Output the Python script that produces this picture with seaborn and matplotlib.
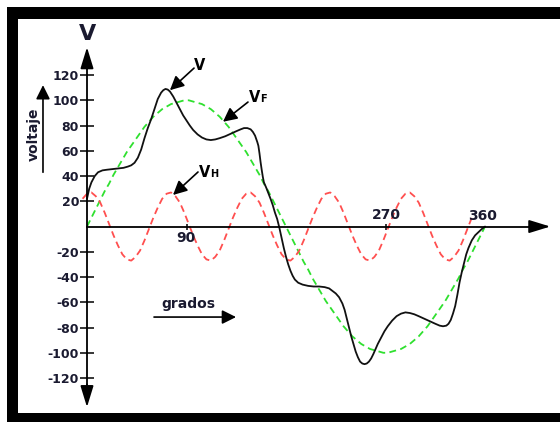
import numpy as np
import pandas as pd
import matplotlib
matplotlib.use('Agg')
import matplotlib.pyplot as plt
from matplotlib.patches import Rectangle
import seaborn as sns

# datos (grados, voltaje)
v_deg = [0, 2, 4, 7, 10, 14, 18, 23, 28, 33, 37, 40, 43, 46, 49, 52, 55, 58, 61, 64,
         67, 69, 71, 73, 75, 78, 81, 84, 87, 90, 93, 96, 100, 104, 108, 112, 116, 120,
         125, 130, 135, 139, 142, 145, 148, 150, 152, 154, 155, 156, 157, 158, 159, 160,
         162, 164, 166, 168, 170, 172, 174, 176, 178, 180, 182, 184, 186, 188, 191, 195,
         200, 205, 210, 215, 219, 222, 225, 228, 231, 233, 235, 237, 239, 241, 243, 245,
         247, 249, 251, 253, 255, 257, 259, 261, 263, 266, 269, 272, 276, 280, 284, 288,
         292, 296, 300, 305, 310, 315, 319, 322, 325, 327, 329, 331, 333, 335, 337, 339,
         341, 343, 345, 348, 351, 354, 357, 360]
v_val = [22, 30, 35, 40, 43, 44.5, 45, 45.5, 46, 46.5, 47.5, 48.5, 50.5, 54.5, 61, 70, 78, 85, 93, 101,
         106, 108, 109, 108.5, 107, 103, 98, 93, 88, 84, 80, 76.5, 73, 70.5, 69, 68.5, 69, 70,
         71.5, 73.5, 75.5, 77, 78, 78, 77, 75, 72, 67, 64, 58, 51, 45, 39.5, 35,
         31, 26.5, 22, 17, 11, 6, -1, -9, -17, -24, -30, -35, -39, -42, -44.5, -46,
         -47, -47.5, -47.5, -48, -49, -51, -53, -56, -61, -66, -73, -80, -87, -93, -99, -103.5,
         -107, -108.5, -109, -108.5, -107, -104.5, -101, -97, -93, -88, -83, -79, -74.5, -71, -69, -68,
         -68.5, -69.5, -71, -73, -75, -77, -78.5, -79, -78.5, -77, -74, -69, -63, -54, -44, -36,
         -29, -22, -17, -11, -7, -4.5, -2, 0]

f_deg = list(range(0, 361, 4))
f_val = [0, 7, 14, 21, 28, 34, 41, 47, 53, 59, 64, 69, 74, 79, 83, 87, 90, 93, 95, 97, 98, 99, 100,
         100, 99, 98, 97, 95, 93, 90, 87, 83, 79, 74, 69, 64, 59, 53, 47, 41, 34, 28, 21, 14, 7,
         0, -7, -14, -21, -28, -34, -41, -47, -53, -59, -64, -69, -74, -79, -83, -87, -90, -93, -95,
         -97, -98, -99, -100, -100, -99, -98, -97, -95, -93, -90, -87, -83, -79, -74, -69, -64, -59,
         -53, -47, -41, -34, -28, -21, -14, -7, 0]

h_deg = list(range(-4, 349, 4))
h_val = [22,
         26, 27, 24, 19, 11, 2, -7, -15, -22, -26, -27, -24, -19, -11, -2, 7, 15, 22,
         26, 27, 24, 19, 11, 2, -7, -15, -22, -26, -27, -24, -19, -11, -2, 7, 15, 22,
         26, 27, 24, 19, 11, 2, -7, -15, -22, -26, -27, -24, -19, -11, -2, 7, 15, 22,
         26, 27, 24, 19, 11, 2, -7, -15, -22, -26, -27, -24, -19, -11, -2, 7, 15, 22,
         26, 27, 24, 19, 11, 2, -7, -15, -22, -26, -27, -24, -19, -11, -2, 7]

y_ticks = [-120, -100, -80, -60, -40, -20, 20, 40, 60, 80, 100, 120]
x_ticks = [90, 270]

sns.set_style('white')
plt.rcParams['font.family'] = ['DejaVu Sans']
txt_col = '#1a1a30'

fig = plt.figure(figsize=(5.6, 4.22), dpi=100)
fig.patch.set_facecolor('white')
# marco negro
fig.patches.append(Rectangle((7 / 560, 0), 1, 415 / 422, transform=fig.transFigure,
                             facecolor='black', edgecolor='none', zorder=-1))
ax = fig.add_axes([18 / 560, 9 / 422, 542 / 560, 394 / 422])
ax.set_facecolor('white')

sns.lineplot(x=f_deg, y=f_val, ax=ax, color='#2fe02f', lw=1.3, linestyle=(0, (3.8, 2.4)),
             estimator=None, sort=False)
sns.lineplot(x=h_deg, y=h_val, ax=ax, color='#ff4f4f', lw=1.3, linestyle=(0, (3.8, 2.4)),
             estimator=None, sort=False)
sns.lineplot(x=v_deg, y=v_val, ax=ax, color='#111111', lw=1.3, estimator=None, sort=False)

ax.set_xlim(-62.4, 427.8)
ax.set_ylim(-147.7, 164.4)

# ejes en el origen
ax.spines['left'].set_position(('data', 0))
ax.spines['bottom'].set_position(('data', 0))
ax.spines['right'].set_visible(False)
ax.spines['top'].set_visible(False)
for s in ['left', 'bottom']:
    ax.spines[s].set_linewidth(1.3)
    ax.spines[s].set_color('black')
ax.spines['left'].set_bounds(-135, 135)
ax.spines['bottom'].set_bounds(0, 410)

ax.set_yticks(y_ticks)
ax.set_yticklabels([str(t) for t in y_ticks])
ax.tick_params(axis='y', direction='inout', length=9.5, width=1.3, labelsize=9,
               pad=1, labelcolor=txt_col, left=True)
for lab in ax.get_yticklabels():
    lab.set_fontweight('bold')
ax.set_xticks(x_ticks)
ax.set_xticklabels([])
ax.tick_params(axis='x', direction='inout', length=5, width=1.3, bottom=True)
ax.set_xlabel('')
ax.set_ylabel('')

# flechas de los ejes
head = dict(arrowstyle='-|>,head_length=0.65,head_width=0.2', color='black', lw=1.3,
            mutation_scale=20, shrinkA=0, shrinkB=0)
ax.annotate('', xy=(419, 0), xytext=(400, 0), arrowprops=head)
ax.annotate('', xy=(0, 142), xytext=(0, 125), arrowprops=head)
ax.annotate('', xy=(0, -143), xytext=(0, -125), arrowprops=head)

# etiquetas
ax.text(0.5, 152.5, 'V', ha='center', va='center', fontsize=16, fontweight='bold', color=txt_col)
ax.text(-47.9, 73.3, 'voltaje', ha='center', va='center', rotation=90, fontsize=10,
        fontweight='bold', color=txt_col)
small = dict(arrowstyle='-|>,head_length=0.6,head_width=0.3', color='black', lw=1.2,
             mutation_scale=14, shrinkA=0, shrinkB=0)
ax.annotate('', xy=(-39.8, 112), xytext=(-39.8, 43), arrowprops=small)
ax.text(91.4, -61.4, 'grados', ha='center', va='center', fontsize=10, fontweight='bold',
        color=txt_col)
ax.annotate('', xy=(134.8, -71.7), xytext=(60.6, -71.7), arrowprops=small)

ax.text(89.5, -8.7, '90', ha='center', va='center', fontsize=10, fontweight='bold', color=txt_col)
ax.text(270.4, 9.1, '270', ha='center', va='center', fontsize=10, fontweight='bold', color=txt_col)
ax.text(358.2, 8.3, '360', ha='center', va='center', fontsize=10, fontweight='bold', color=txt_col)

# anotaciones de las curvas
ax.annotate('', xy=(75, 108), xytext=(96.8, 125.5), arrowprops=small)
ax.text(102.2, 124, 'V', ha='center', va='baseline', fontsize=10.5, fontweight='bold', color='black')
ax.annotate('', xy=(123, 83), xytext=(145.6, 98.6), arrowprops=small)
ax.text(151.5, 98.6, 'V', ha='center', va='baseline', fontsize=10.5, fontweight='bold', color='black')
ax.text(156.5, 98.6, 'F', ha='left', va='baseline', fontsize=7, fontweight='bold', color='black')
ax.annotate('', xy=(77.8, 25), xytext=(100.4, 43.2), arrowprops=small)
ax.text(106.7, 39.2, 'V', ha='center', va='baseline', fontsize=10.5, fontweight='bold', color='black')
ax.text(111.3, 39.2, 'H', ha='left', va='baseline', fontsize=7, fontweight='bold', color='black')

fig.savefig('out.png', dpi=100, facecolor=fig.get_facecolor())
